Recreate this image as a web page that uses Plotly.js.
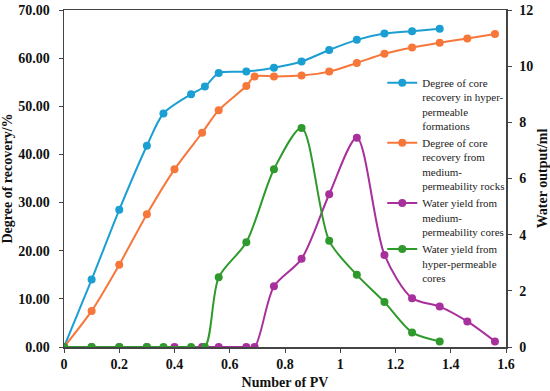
<!DOCTYPE html>
<html>
<head>
<meta charset="utf-8">
<script src="https://cdn.plot.ly/plotly-3.0.1.min.js"></script>
<style>html,body{margin:0;padding:0;background:#fff;}#chart{width:550px;height:391px;}</style>
</head>
<body>
<div id="chart"></div>
<script>
// Hyper-permeable experiment PV values
var pvHyper = [0, 0.1, 0.2, 0.3, 0.36, 0.46, 0.51, 0.56, 0.66, 0.76, 0.86, 0.96, 1.06, 1.16, 1.26, 1.36];
// Medium-permeability experiment PV values
var pvMedium = [0, 0.1, 0.2, 0.3, 0.4, 0.5, 0.56, 0.66, 0.69, 0.76, 0.86, 0.96, 1.06, 1.16, 1.26, 1.36, 1.46, 1.56];

var recoveryHyper = [0, 14.0, 28.5, 41.8, 48.5, 52.5, 54.1, 56.9, 57.2, 58.0, 59.3, 61.7, 63.8, 65.1, 65.6, 66.1];
var recoveryMedium = [0, 7.5, 17.1, 27.6, 36.9, 44.5, 49.2, 54.2, 56.2, 56.2, 56.4, 57.2, 59.0, 60.9, 62.2, 63.2, 64.1, 65.0];
var waterMedium = [0, 0, 0, 0, 0, 0, 0, 0, 0, 2.16, 3.14, 5.44, 7.45, 3.28, 1.74, 1.44, 0.91, 0.20];
var waterHyper = [0, 0, 0, 0, 0, 0, 0, 2.48, 3.73, 6.33, 7.80, 3.78, 2.57, 1.60, 0.52, 0.20];

var names = [
  'Degree of core<br>recovery in hyper-<br>permeable<br>formations',
  'Degree of core<br>recovery from<br>medium-<br>permeability rocks',
  'Water yield from<br>medium-<br>permeability cores',
  'Water yield from<br>hyper-permeable<br>cores'
];
var colors = ['#1b9fd3', '#f7773a', '#a8309c', '#2f9a2c'];

function tr(x, y, i, axis) {
  return {
    x: x, y: y, name: names[i], yaxis: axis, type: 'scatter', mode: 'lines+markers',
    line: {color: colors[i], width: 2, shape: 'spline', smoothing: 0.8},
    marker: {color: colors[i], size: 8}
  };
}

var data = [
  tr(pvHyper, recoveryHyper, 0, 'y'),
  tr(pvMedium, recoveryMedium, 1, 'y'),
  tr(pvMedium, waterMedium, 2, 'y2'),
  tr(pvHyper, waterHyper, 3, 'y2')
];

var fam = 'Liberation Serif, Times New Roman, serif';
var tickFont = {family: fam, size: 14, color: '#111', weight: 'bold'};
var titleFont = {family: fam, size: 14, color: '#111', weight: 'bold'};

var layout = {
  width: 550, height: 391,
  margin: {l: 64, r: 44, t: 10, b: 44},
  paper_bgcolor: '#fff', plot_bgcolor: '#fff',
  font: {family: fam, color: '#111'},
  showlegend: true,
  legend: {
    x: 0.72, y: 0.825, xanchor: 'left', yanchor: 'top', valign: 'top',
    font: {family: fam, size: 11, color: '#222'},
    bgcolor: 'rgba(0,0,0,0)', tracegroupgap: 0, itemwidth: 30
  },
  xaxis: {
    range: [0, 1.6], dtick: 0.2, tick0: 0,
    showgrid: false, zeroline: false,
    showline: true, linecolor: '#444', linewidth: 1.5, mirror: true,
    ticks: 'outside', ticklen: 4, tickcolor: '#444',
    tickfont: tickFont,
    title: {text: 'Number of PV', font: titleFont, standoff: 6}
  },
  yaxis: {
    range: [0, 70], dtick: 10, tickformat: '.2f',
    showgrid: false, zeroline: false,
    showline: true, linecolor: '#444', linewidth: 1.5,
    ticks: 'outside', ticklen: 4, tickcolor: '#444',
    ticklabelstandoff: 6,
    tickfont: tickFont,
    title: {text: 'Degree of recovery/%', font: titleFont, standoff: 2}
  },
  yaxis2: {
    range: [0, 12], dtick: 2, overlaying: 'y', side: 'right',
    showgrid: false, zeroline: false,
    showline: true, linecolor: '#444', linewidth: 1.5,
    ticks: 'outside', ticklen: 4, tickcolor: '#444',
    ticklabelstandoff: 5,
    tickfont: tickFont,
    title: {text: 'Water output/ml', font: titleFont, standoff: 6}
  }
};

Plotly.newPlot('chart', data, layout, {displayModeBar: false, staticPlot: true});
</script>
</body>
</html>
